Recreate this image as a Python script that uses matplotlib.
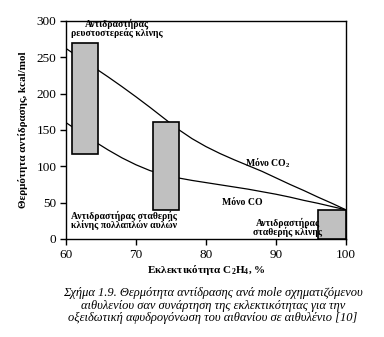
import matplotlib
matplotlib.use('Agg')
import matplotlib.pyplot as plt
from matplotlib.patches import Rectangle

plt.rcParams['font.family'] = ['Liberation Serif', 'DejaVu Serif']
plt.rcParams['mathtext.fontset'] = 'custom'
plt.rcParams['mathtext.rm'] = 'Liberation Serif'
plt.rcParams['mathtext.bf'] = 'Liberation Serif:bold'

# heat of reaction curves (kcal/mol) vs C2H4 selectivity (%)
sel = [60, 62, 64, 66, 68, 70, 72, 74, 76, 78, 80, 82, 84, 86, 88, 90, 92, 94, 96, 98, 100]
co2_only = [262, 249, 236, 223, 209.5, 195.5, 181, 166, 151, 138, 127, 117.5, 109, 101,
            93, 84, 75, 66.5, 57.5, 49, 40]
co_only = [160, 147, 134.5, 122.5, 111.5, 102, 94, 88.5, 84, 80.5, 77.5, 74.5, 71.5, 68.5,
           65, 61.5, 57.5, 53, 49, 44.5, 40]

# reactor operating windows: (x0, x1, y0, y1)
reactors = [(60.9, 64.6, 117, 270),
            (72.4, 76.2, 40, 161),
            (96.0, 100.0, 0, 40)]

xticks = [60, 70, 80, 90, 100]
yticks = [0, 50, 100, 150, 200, 250, 300]

fig = plt.figure(figsize=(3.84, 3.37), dpi=100)
ax = fig.add_axes([0.172, 0.291, 0.729, 0.647])

ax.plot(sel, co2_only, color='black', lw=0.9, zorder=2)
ax.plot(sel, co_only, color='black', lw=0.9, zorder=2)

for x0, x1, y0, y1 in reactors:
    ax.add_patch(Rectangle((x0, y0), x1 - x0, y1 - y0, facecolor='#c0c0c0',
                           edgecolor='black', lw=1.2, zorder=3))

ax.set_xlim(60, 100)
ax.set_ylim(0, 300)
ax.set_xticks(xticks)
ax.set_yticks(yticks)
ax.tick_params(direction='out', length=4, width=1, labelsize=9.5, pad=3)
for s in ax.spines.values():
    s.set_linewidth(1)

bold = dict(fontweight='bold', fontsize=7, color='black')
ax.text(67.3, 277, 'Αντιδραστήρας\nρευστοστερεάς κλίνης', ha='center', va='bottom',
        linespacing=0.85, zorder=4, **bold)
ax.text(60.7, 12, 'Αντιδραστήρας σταθερής\nκλίνης πολλαπλών αυλών', ha='left', va='bottom',
        linespacing=0.85, zorder=4, **bold)
ax.text(96.6, 3, 'Αντιδραστήρας\nσταθερής κλίνης', ha='right', va='bottom',
        multialignment='center', linespacing=0.85, zorder=4, **bold)
ax.text(85.6, 104, 'Μόνο CO$_\\mathbf{2}$', ha='left', va='center', zorder=4, **bold)
ax.text(82.3, 50, 'Μόνο CO', ha='left', va='center', zorder=4, **bold)

ax.set_ylabel('Θερμότητα αντίδρασης, kcal/mol', fontweight='bold', fontsize=8, labelpad=6)
ax.set_xlabel('Εκλεκτικότητα C$_\\mathbf{2}$H$_\\mathbf{4}$, %', fontweight='bold',
              fontsize=8, labelpad=1.5)

fig.text(0.555, 0.147,
         'Σχήμα 1.9. Θερμότητα αντίδρασης ανά mole σχηματιζόμενου\n'
         'αιθυλενίου σαν συνάρτηση της εκλεκτικότητας για την\n'
         'οξειδωτική αφυδρογόνωση του αιθανίου σε αιθυλένιο [10]',
         ha='center', va='top', fontstyle='italic', fontsize=9, linespacing=1.05)

fig.savefig('out.png', dpi=100)
